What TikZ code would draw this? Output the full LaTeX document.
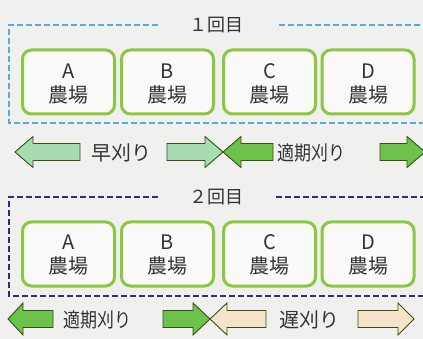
\documentclass[tikz,border=0pt]{standalone}
\usepackage{fontspec}
\newfontfamily\jp{Noto Sans CJK JP}
\begin{document}
\begin{tikzpicture}[x=1pt,y=-1pt]
\definecolor{bg}{HTML}{F0F0EE}
\definecolor{boxline}{HTML}{8DC641}
\definecolor{boxfill}{HTML}{FAFAF8}
\definecolor{txt}{HTML}{333333}
\definecolor{blued}{HTML}{5AA8E0}
\definecolor{navyd}{HTML}{2B2F7A}
\definecolor{early}{HTML}{A6DDB0}
\definecolor{proper}{HTML}{6DC24B}
\definecolor{late}{HTML}{F6E3CC}
\definecolor{arrline}{HTML}{3D4A1A}
\tikzset{
  farm/.style={draw=boxline, line width=3pt, fill=boxfill, rounded corners=9pt,
    minimum width=92pt, minimum height=64pt, inner sep=0pt},
  farmtxt/.style={text=txt, font=\jp\fontsize{20}{20}\selectfont, inner sep=0pt},
  title/.style={text=txt, font=\jp\fontsize{18}{18}\selectfont, inner sep=0pt},
  lbl/.style={text=txt, font=\jp\fontsize{20}{20}\selectfont, inner sep=0pt},
  dashblue/.style={draw=blued, line width=1.4pt, dash pattern=on 6pt off 3pt},
  dashnavy/.style={draw=navyd, line width=1.4pt, dash pattern=on 6pt off 3pt},
  arr/.style={draw=arrline, line width=0.9pt, line join=miter}
}
\useasboundingbox (0,0) rectangle (423,339);
\fill[bg] (0,0) rectangle (423,339);

% ---------- round 1 ----------
\draw[dashblue] (158,25) -- (9,25) -- (9,123) -- (424,123);
\draw[dashblue] (279,25) -- (424,25);
\node[title] (t1) at (216,25) {１回目};

\foreach \n/\x/\l in {a1/68.5/A, b1/167.5/B, c1/269.5/C, d1/368/D}{
  \node[farm] (\n) at (\x,82) {};
  \node[farmtxt] (\n l) at (\x,71) {\l};
  \node[farmtxt] (\n f) at (\x,95) {農場};
}

% arrows row 1 (centre y=152)
\draw[arr, fill=early] (15,152) -- (33,136.5) -- (33,143.5) -- (80,143.5) -- (80,160.5) -- (33,160.5) -- (33,167.5) -- cycle;
\draw[arr, fill=early] (223,152) -- (205,136.5) -- (205,143.5) -- (167,143.5) -- (167,160.5) -- (205,160.5) -- (205,167.5) -- cycle;
\draw[arr, fill=proper] (223,152) -- (241,136.5) -- (241,143.5) -- (273,143.5) -- (273,160.5) -- (241,160.5) -- (241,167.5) -- cycle;
\draw[arr, fill=proper] (425,152) -- (407,136.5) -- (407,143.5) -- (380,143.5) -- (380,160.5) -- (407,160.5) -- (407,167.5) -- cycle;
\node[lbl] (e1) at (121,153) {早刈り};
\node[lbl, xscale=0.85] (p1) at (311,153) {適期刈り};

% ---------- round 2 ----------
\draw[dashnavy] (158,197) -- (9,197) -- (9,296) -- (424,296);
\draw[dashnavy] (276,197) -- (424,197);
\node[title] (t2) at (216,197) {２回目};

\foreach \n/\x/\l in {a2/68.5/A, b2/167.5/B, c2/269.5/C, d2/368/D}{
  \node[farm] (\n) at (\x,254) {};
  \node[farmtxt] (\n l) at (\x,242) {\l};
  \node[farmtxt] (\n f) at (\x,266) {農場};
}

% arrows row 2 (centre y=319)
\draw[arr, fill=proper] (8,319) -- (23,303) -- (23,310.5) -- (53,310.5) -- (53,327.5) -- (23,327.5) -- (23,335) -- cycle;
\draw[arr, fill=proper] (210,319) -- (193,303) -- (193,310.5) -- (163,310.5) -- (163,327.5) -- (193,327.5) -- (193,335) -- cycle;
\draw[arr, fill=late] (210,319) -- (227,303) -- (227,310.5) -- (266,310.5) -- (266,327.5) -- (227,327.5) -- (227,335) -- cycle;
\draw[arr, fill=late] (414,319) -- (398,303) -- (398,310.5) -- (358,310.5) -- (358,327.5) -- (398,327.5) -- (398,335) -- cycle;
\node[lbl, xscale=0.85] (p2) at (97,320) {適期刈り};
\node[lbl] (l2) at (309,320) {遅刈り};
\end{tikzpicture}
\end{document}
